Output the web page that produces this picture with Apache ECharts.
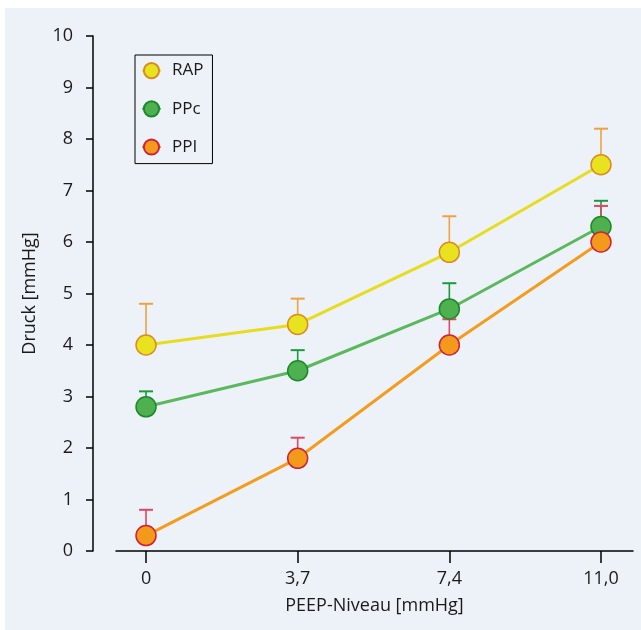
<!DOCTYPE html>
<html>
<head>
<meta charset="utf-8">
<script src="https://cdn.jsdelivr.net/npm/echarts@6/dist/echarts.min.js"></script>
<style>
  html, body { margin: 0; padding: 0; background: #ffffff; }
  #chart { position: absolute; left: 5px; top: 8px; width: 636px; height: 622px; background: #edf2f9; }
</style>
</head>
<body>
<div id="chart"></div>
<script>
// PEEP levels (equally spaced on the axis) and their tick labels
var peepLabels = ['0', '3,7', '7,4', '11,0'];

// mean values
var rap = [4.0, 4.4, 5.8, 7.5];
var ppc = [2.8, 3.5, 4.7, 6.3];
var ppi = [0.3, 1.8, 4.0, 6.0];

// upper end of the error bars
var rapErr = [4.8, 4.9, 6.5, 8.2];
var ppcErr = [3.1, 3.9, 5.2, 6.8];
var ppiErr = [0.8, 2.2, 4.5, 6.7];

var pos = peepLabels.map(function (l, i) { return i; });

function pairs(ys) {
    return ys.map(function (y, i) { return [pos[i], y]; });
}

function errSeries(name, ys, tops, color) {
    return {
        name: name,
        type: 'custom',
        z: 1,
        silent: true,
        data: ys.map(function (y, i) { return [pos[i], y, tops[i]]; }),
        renderItem: function (params, api) {
            var p0 = api.coord([api.value(0), api.value(1)]);
            var p1 = api.coord([api.value(0), api.value(2)]);
            var w = 7;
            return {
                type: 'group',
                children: [
                    {
                        type: 'line',
                        shape: { x1: p0[0], y1: p0[1], x2: p1[0], y2: p1[1] },
                        style: { stroke: color, lineWidth: 1.6 }
                    },
                    {
                        type: 'line',
                        shape: { x1: p1[0] - w, y1: p1[1], x2: p1[0] + w, y2: p1[1] },
                        style: { stroke: color, lineWidth: 2 }
                    }
                ]
            };
        }
    };
}

function lineSeries(name, ys, lineColor, fill, border) {
    return {
        name: name,
        type: 'line',
        z: 3,
        data: pairs(ys),
        symbol: 'circle',
        symbolSize: 20,
        lineStyle: { color: lineColor, width: 3 },
        itemStyle: { color: fill, borderColor: border, borderWidth: 1.5 }
    };
}

var chart = echarts.init(document.getElementById('chart'));

chart.setOption({
    animation: false,
    textStyle: { fontFamily: 'Open Sans', color: '#1a1a1a' },
    grid: {
        left: 111,
        right: 8,
        top: 28,
        bottom: 79
    },
    legend: {
        orient: 'vertical',
        left: 130,
        top: 47,
        borderColor: '#000',
        borderWidth: 1,
        padding: [7, 9, 8, 6],
        itemWidth: 19,
        itemHeight: 19,
        itemGap: 21,
        textStyle: { fontSize: 17, color: '#1a1a1a', padding: [0, 0, 0, 6] },
        data: ['RAP', 'PPc', 'PPI']
    },
    xAxis: {
        type: 'value',
        min: -0.198,
        max: 3.211,
        splitLine: { show: false },
        axisLine: { onZero: false, lineStyle: { color: '#000', width: 1.5 } },
        axisTick: {
            customValues: pos,
            length: 12,
            lineStyle: { color: '#000', width: 1.5 }
        },
        axisLabel: {
            customValues: pos,
            margin: 19,
            fontSize: 18,
            color: '#1a1a1a',
            formatter: function (v) {
                return peepLabels[Math.round(v)] || '';
            }
        },
        name: 'PEEP-Niveau [mmHg]',
        nameLocation: 'middle',
        nameGap: 46,
        nameTextStyle: { fontSize: 18, color: '#1a1a1a' }
    },
    yAxis: {
        type: 'value',
        min: 0,
        max: 10,
        interval: 1,
        offset: 23,
        splitLine: { show: false },
        axisLine: { show: true, onZero: false, lineStyle: { color: '#000', width: 1.5 } },
        axisTick: { show: true, length: 7, lineStyle: { color: '#000', width: 1.5 } },
        axisLabel: { margin: 20, fontSize: 18, color: '#1a1a1a' },
        name: 'Druck [mmHg]',
        nameLocation: 'middle',
        nameGap: 54,
        nameTextStyle: { fontSize: 18, color: '#1a1a1a' }
    },
    series: [
        errSeries('RAP-err', rap, rapErr, '#f0a040'),
        errSeries('PPc-err', ppc, ppcErr, '#1a9a3a'),
        errSeries('PPI-err', ppi, ppiErr, '#e04862'),
        lineSeries('RAP', rap, '#e8dc1e', '#e9e21f', '#d98c20'),
        lineSeries('PPc', ppc, '#5cb85c', '#4fb050', '#1a8a2a'),
        lineSeries('PPI', ppi, '#f39c1e', '#f39a1a', '#d0203a')
    ]
});
</script>
</body>
</html>
